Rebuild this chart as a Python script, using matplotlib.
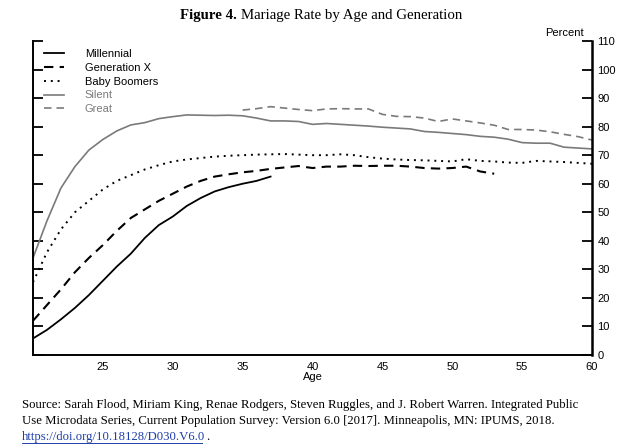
import matplotlib
matplotlib.use("Agg")
import matplotlib.pyplot as plt
from matplotlib.lines import Line2D

# ---- data ----
ages_mill = list(range(20, 38))
millennial = [5.8, 8.8, 12.5, 16.5, 21, 26, 31, 35.5, 41, 45.5, 48.5, 52.2, 55, 57.3, 58.8, 60, 61, 62.5]

ages_genx = list(range(20, 54))
genx = [12, 17.5, 23, 29, 34, 38.5, 43.5, 48, 51, 54, 56.5, 59, 61, 62.5, 63.3, 64, 64.5, 65.2,
        65.7, 66.2, 65.5, 66, 66, 66.3, 66.2, 66.3, 66.3, 66, 65.5, 65.3, 65.5, 66, 64.3, 63.5]

ages_full = list(range(20, 61))
boomers = [25.5, 36, 44, 50, 54, 58, 61, 63, 65, 66.5, 67.8, 68.5, 69, 69.5, 69.8, 70, 70.2, 70.3,
           70.4, 70.2, 70, 70, 70.3, 70, 69.3, 68.8, 68.5, 68.3, 68.2, 68, 67.8, 68.6, 68, 67.8,
           67.4, 67.3, 68, 67.8, 67.6, 67.3, 67]
silent = [34, 47, 58.5, 66, 71.8, 75.5, 78.5, 80.6, 81.4, 82.8, 83.5, 84.1, 84, 83.9, 84, 83.8,
          83, 82, 82, 81.8, 80.8, 81.1, 80.8, 80.5, 80.2, 79.8, 79.5, 79.2, 78.3, 78, 77.6, 77.2,
          76.6, 76.3, 75.6, 74.4, 74.2, 74.2, 72.8, 72.5, 72.2]

ages_great = list(range(35, 61))
great = [85.8, 86.3, 87, 86.5, 86, 85.6, 86.2, 86.3, 86.2, 86.2, 84.3, 83.6, 83.5, 83, 81.8, 82.7,
         82, 81.3, 80.5, 79, 79, 78.8, 78.2, 77.3, 76.5, 75.3]

x_ticks = [25, 30, 35, 40, 45, 50, 55, 60]
y_ticks = list(range(0, 111, 10))

title_bold = "Figure 4."
title_rest = "Mariage Rate by Age and Generation"
source_lines = [
    "Source: Sarah Flood, Miriam King, Renae Rodgers, Steven Ruggles, and J. Robert Warren. Integrated Public",
    "Use Microdata Series, Current Population Survey: Version 6.0 [2017]. Minneapolis, MN: IPUMS, 2018.",
]
url = "https://doi.org/10.18128/D030.V6.0"

SANS = ["Liberation Sans", "DejaVu Sans"]
SERIF = ["Liberation Serif", "DejaVu Serif"]
GRAY = "#7a7a7a"

fig = plt.figure(figsize=(6.4, 4.48), dpi=100)
ax = fig.add_axes([33 / 640, 1 - 355 / 448, (592 - 33) / 640, (355 - 41) / 448])

ax.plot(ages_mill, millennial, color="black", lw=1.3, label="Millennial")
ax.plot(ages_genx, genx, color="black", lw=1.5, ls=(0, (4.5, 3)), label="Generation X")
ax.plot(ages_full, boomers, color="black", lw=1.4, ls=(0, (1, 2.5)), label="Baby Boomers")
ax.plot(ages_full, silent, color=GRAY, lw=1.2, label="Silent")
ax.plot(ages_great, great, color=GRAY, lw=1.2, ls=(0, (4.5, 3)), label="Great")

ax.set_xlim(20, 60)
ax.set_ylim(0, 110)
ax.set_xticks(x_ticks)
ax.set_yticks(y_ticks)
ax.tick_params(axis="x", length=0, pad=5, labelsize=8)
ax.tick_params(axis="y", left=True, right=True, labelleft=False, labelright=True,
               direction="in", length=7, width=1.3, labelsize=8, pad=4)
for lab in ax.get_xticklabels() + ax.get_yticklabels():
    lab.set_fontfamily(SANS)
ax.spines["top"].set_visible(False)
ax.spines["left"].set_linewidth(1.4)
ax.spines["bottom"].set_linewidth(1.4)
ax.spines["right"].set_linewidth(1.8)
ax.set_xlabel("Age", family=SANS, fontsize=8, labelpad=0)

ax.text(0.985, 1.01, "Percent", transform=ax.transAxes, ha="right", va="bottom",
        family=SANS, fontsize=8)

leg = ax.legend(loc="upper left", bbox_to_anchor=(0.005, 1.0), frameon=False,
                prop={"family": SANS, "size": 8}, handlelength=1.8, handletextpad=1.9,
                labelspacing=0.35, borderaxespad=0.3,
                labelcolor=["black", "black", "black", GRAY, GRAY])

# title (bold part + regular part)
fig.canvas.draw()
r = fig.canvas.get_renderer()
t1 = fig.text(180 / 640, 1 - 16 / 448, title_bold, family=SERIF, fontsize=10.7,
              fontweight="bold", ha="left", va="center")
bb = t1.get_window_extent(r)
fig.text((bb.x1 + 4) / 640, 1 - 16 / 448, title_rest, family=SERIF, fontsize=10.7,
         ha="left", va="center")

# source note
y0 = 405
for i, line in enumerate(source_lines):
    fig.text(22 / 640, 1 - (y0 + i * 16) / 448, line, family=SERIF, fontsize=9.2,
             ha="left", va="center")
tu = fig.text(22 / 640, 1 - (y0 + 32) / 448, url, family=SERIF, fontsize=9.2,
              ha="left", va="center", color="#1f3fa8")
bu = tu.get_window_extent(r)
fig.text((bu.x1 + 0.5) / 640, 1 - (y0 + 32) / 448, ".", family=SERIF, fontsize=9.2,
         ha="left", va="center")
fig.add_artist(Line2D([bu.x0 / 640, (bu.x1 - 3) / 640], [(bu.y0 + 0.5) / 448] * 2,
                      color="#1f3fa8", lw=0.7))

fig.savefig("out.png", dpi=100)
